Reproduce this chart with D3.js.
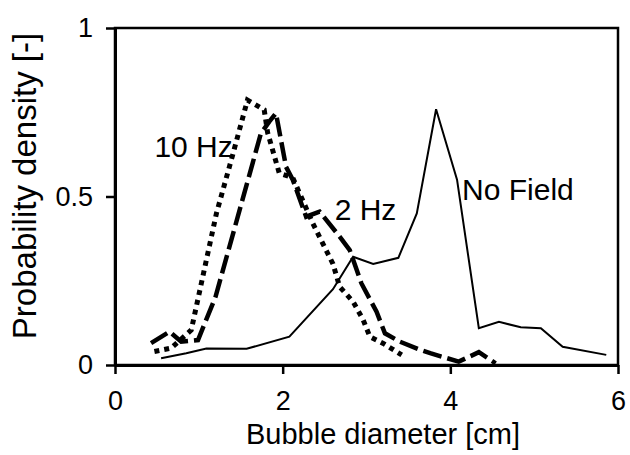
<!DOCTYPE html>
<html>
<head>
<meta charset="utf-8">
<script src="https://cdn.jsdelivr.net/npm/d3@7"></script>
<style>
  html, body { margin: 0; padding: 0; background: #fff; }
  svg { display: block; font-family: "Liberation Sans", Arial, sans-serif; }
</style>
</head>
<body>
<svg id="chart" width="630" height="455"></svg>
<script>
// ---- data ----
const xTicks = [0, 2, 4, 6];
const yTicks = [0, 0.5, 1];

const noFieldX = [0.55, 0.85, 1.09, 1.57, 2.08, 2.6, 2.84, 3.08, 3.38, 3.6, 3.83, 4.08, 4.34, 4.58, 4.84, 5.08, 5.34, 5.86];
const noFieldY = [0.02, 0.035, 0.049, 0.048, 0.084, 0.225, 0.321, 0.30, 0.318, 0.45, 0.759, 0.55, 0.109, 0.128, 0.112, 0.109, 0.054, 0.03];

const hz2X = [0.43, 0.65, 0.79, 0.99, 1.2, 1.74, 1.84, 1.92, 2.04, 2.12, 2.28, 2.44, 2.68, 2.8, 2.94, 3.12, 3.22, 3.4, 3.64, 3.76, 4.1, 4.34, 4.54];
const hz2Y = [0.065, 0.099, 0.069, 0.074, 0.203, 0.687, 0.722, 0.747, 0.588, 0.55, 0.44, 0.455, 0.381, 0.341, 0.242, 0.158, 0.094, 0.069, 0.045, 0.035, 0.01, 0.038, 0.005];

const hz10X = [0.47, 0.67, 0.91, 1.21, 1.40, 1.58, 1.78, 1.82, 1.96, 2.12, 2.36, 2.6, 2.68, 2.84, 2.96, 3.04, 3.2, 3.42];
const hz10Y = [0.04, 0.05, 0.104, 0.45, 0.62, 0.786, 0.757, 0.69, 0.569, 0.556, 0.42, 0.30, 0.232, 0.188, 0.134, 0.084, 0.064, 0.03];

const labels = [
  { text: "10 Hz", x: 0.47, y: 0.617 },
  { text: "2 Hz", x: 2.62, y: 0.43 },
  { text: "No Field", x: 4.14, y: 0.49 }
];

// ---- layout ----
const svg = d3.select("#chart");
const mLeft = 115, mRight = 618, mTop = 28, mBottom = 365;

const x = d3.scaleLinear().domain([0, 6]).range([mLeft, mRight]);
const y = d3.scaleLinear().domain([0, 1]).range([mBottom, mTop]);

// frame (top & right)
svg.append("rect")
  .attr("x", mLeft).attr("y", mTop)
  .attr("width", mRight - mLeft).attr("height", mBottom - mTop)
  .attr("fill", "none").attr("stroke", "#000").attr("stroke-width", 2.5);

// series
const line = d3.line().x(d => x(d[0])).y(d => y(d[1]));
const zip = (a, b) => a.map((v, i) => [v, b[i]]);

svg.append("path").datum(zip(noFieldX, noFieldY))
  .attr("d", line).attr("fill", "none").attr("stroke", "#000")
  .attr("stroke-width", 2).attr("stroke-linejoin", "miter");

svg.append("path").datum(zip(hz2X, hz2Y))
  .attr("d", line).attr("fill", "none").attr("stroke", "#000")
  .attr("stroke-width", 4.5).attr("stroke-dasharray", "19,6");

svg.append("path").datum(zip(hz10X, hz10Y))
  .attr("d", line).attr("fill", "none").attr("stroke", "#000")
  .attr("stroke-width", 5).attr("stroke-dasharray", "5,5");

// axes
const xAxis = d3.axisBottom(x).tickValues(xTicks).tickSize(9).tickSizeOuter(0)
  .tickPadding(17).tickFormat(d => String(d));
const yAxis = d3.axisLeft(y).tickValues(yTicks).tickSize(9).tickSizeOuter(0)
  .tickPadding(13).tickFormat(d => String(d));

const gx = svg.append("g").attr("transform", `translate(0,${mBottom})`).call(xAxis);
const gy = svg.append("g").attr("transform", `translate(${mLeft},0)`).call(yAxis);

[gx, gy].forEach(g => {
  g.select(".domain").attr("stroke", "#000").attr("stroke-width", 3);
  g.selectAll(".tick line").attr("stroke", "#000").attr("stroke-width", 2.5);
  g.selectAll(".tick text").attr("fill", "#000").attr("font-size", 27)
    .attr("font-family", "Liberation Sans, Arial, sans-serif");
});

// axis titles
svg.append("text")
  .attr("x", 383).attr("y", 444)
  .attr("text-anchor", "middle").attr("font-size", 29).attr("fill", "#000")
  .text("Bubble diameter [cm]");

svg.append("text")
  .attr("transform", "translate(36,186) rotate(-90)")
  .attr("text-anchor", "middle").attr("font-size", 33).attr("fill", "#000")
  .text("Probability density [-]");

// series labels
svg.selectAll(".lbl").data(labels).enter().append("text")
  .attr("class", "lbl")
  .attr("x", d => x(d.x)).attr("y", d => y(d.y))
  .attr("text-anchor", "start").attr("font-size", 30).attr("fill", "#000")
  .text(d => d.text);
</script>
</body>
</html>
